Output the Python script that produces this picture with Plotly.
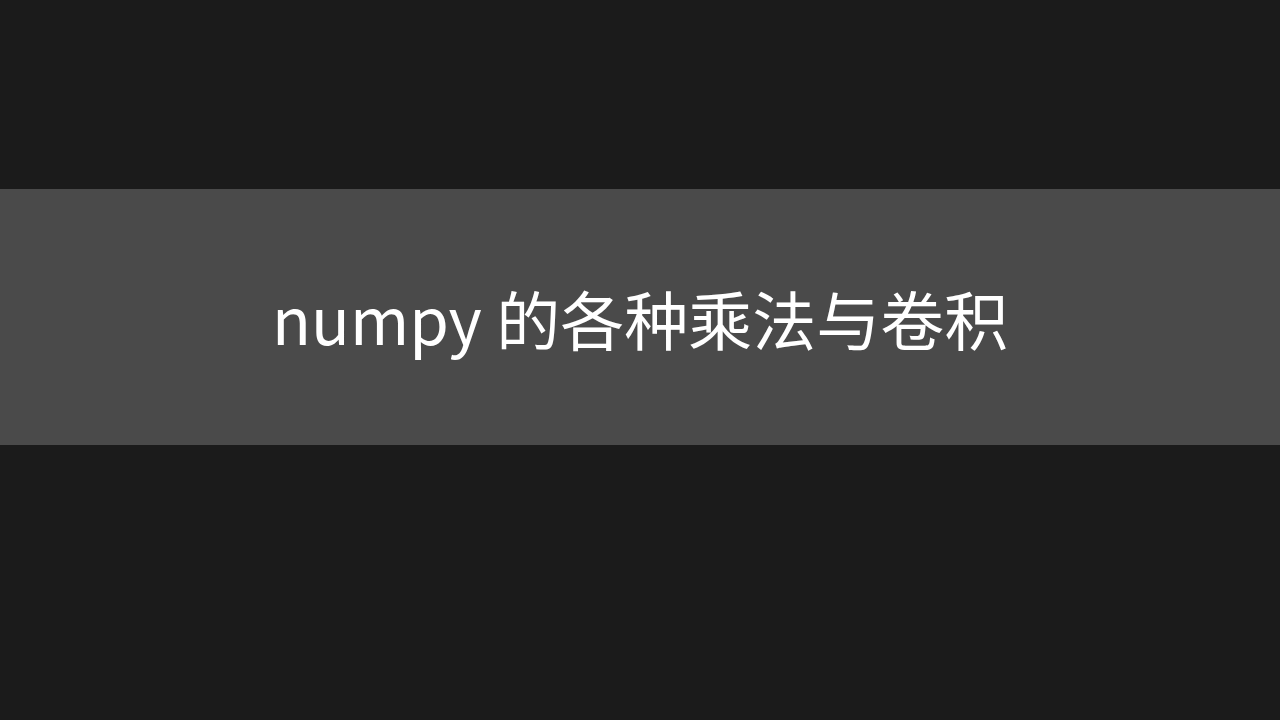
import plotly.graph_objects as go

# title card text
title_words = ["numpy", "的各种乘法与卷积"]
title_text = " ".join(title_words)

bg_color = "#1b1b1b"
band_color = "#4a4a4a"

fig = go.Figure()

# grey band across the middle of the slide
fig.add_shape(type="rect", xref="paper", yref="paper",
              x0=0, x1=1, y0=1 - 445 / 720, y1=1 - 189 / 720,
              fillcolor=band_color, line_width=0, layer="below")

fig.add_annotation(text=title_text, xref="paper", yref="paper",
                   x=0.5, y=1 - 317 / 720, xanchor="center", yanchor="middle",
                   showarrow=False,
                   font=dict(family="Noto Sans CJK SC", size=64, color="#ffffff"))

fig.update_layout(
    width=1280, height=720,
    margin=dict(l=0, r=0, t=0, b=0),
    paper_bgcolor=bg_color, plot_bgcolor=bg_color,
    xaxis=dict(visible=False), yaxis=dict(visible=False),
    showlegend=False,
)

fig.write_html("out.html", config={"displayModeBar": False},
               post_script="document.body.style.margin='0';")
